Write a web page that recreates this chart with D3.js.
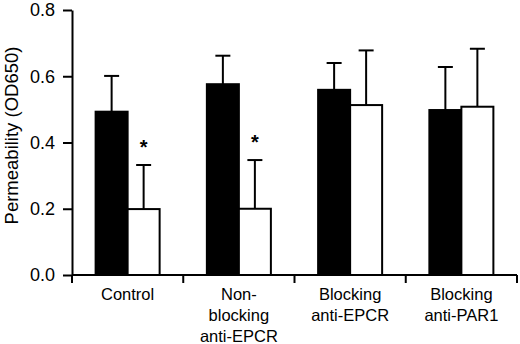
<!DOCTYPE html>
<html>
<head>
<meta charset="utf-8">
<script src="https://cdn.jsdelivr.net/npm/d3@7/dist/d3.min.js"></script>
<style>
body{margin:0;background:#fff;}
text{font-family:"Liberation Sans",Arial,sans-serif;}
</style>
</head>
<body>
<script>
var categories=[["Control"],["Non-","blocking","anti-EPCR"],["Blocking","anti-EPCR"],["Blocking","anti-PAR1"]];
var series=["black","white"];
var blackValues=[0.493,0.576,0.559,0.498];
var blackErrors=[0.108,0.086,0.081,0.130];
var whiteValues=[0.199,0.200,0.513,0.508];
var whiteErrors=[0.133,0.147,0.165,0.175];
var significant=[true,true,false,false];
var yTicks=[0,0.2,0.4,0.6,0.8];

var width=520, height=344;
var margin={left:72, right:3, top:10, bottom:69};

var svg=d3.select("body").append("svg").attr("width",width).attr("height",height);

var x0=d3.scaleBand()
    .domain(d3.range(categories.length))
    .range([margin.left, width-margin.right]);
var x1=d3.scaleBand()
    .domain(series)
    .range([0, x0.bandwidth()])
    .paddingOuter(0.738);
var y=d3.scaleLinear()
    .domain([0,0.8])
    .range([height-margin.bottom, margin.top]);

var rows=[];
categories.forEach(function(c,i){
  rows.push({cat:i, s:"black", v:blackValues[i], e:blackErrors[i]});
  rows.push({cat:i, s:"white", v:whiteValues[i], e:whiteErrors[i]});
});

// error bars first so bar fill covers the stem
var eb=svg.append("g").attr("stroke","#000").attr("stroke-width",2);
rows.forEach(function(d){
  var cx=x0(d.cat)+x1(d.s)+x1.bandwidth()/2;
  eb.append("line").attr("x1",cx).attr("x2",cx).attr("y1",y(d.v)).attr("y2",y(d.v+d.e));
  eb.append("line").attr("x1",cx-7.5).attr("x2",cx+7.5).attr("y1",y(d.v+d.e)).attr("y2",y(d.v+d.e));
});

svg.append("g").selectAll("rect")
  .data(rows).enter().append("rect")
    .attr("x",function(d){return x0(d.cat)+x1(d.s);})
    .attr("y",function(d){return y(d.v);})
    .attr("width",x1.bandwidth())
    .attr("height",function(d){return y(0)-y(d.v);})
    .attr("fill",function(d){return d.s=="black"?"#000":"#fff";})
    .attr("stroke","#000")
    .attr("stroke-width",2);

// asterisks
svg.append("g").selectAll("text")
  .data(rows.filter(function(d){return d.s=="white" && significant[d.cat];}))
  .enter().append("text")
    .attr("x",function(d){return x0(d.cat)+x1(d.s)+x1.bandwidth()/2;})
    .attr("y",function(d){return y(d.v+d.e)-11;})
    .attr("text-anchor","middle")
    .attr("font-size",20)
    .attr("font-weight","bold")
    .text("*");

// y axis
var yAxis=d3.axisLeft(y).tickValues(yTicks).tickFormat(d3.format(".1f")).tickSize(9).tickSizeOuter(0).tickPadding(8);
var gy=svg.append("g").attr("transform","translate("+margin.left+",0)").call(yAxis);
gy.select(".domain").attr("stroke-width",2);
gy.selectAll(".tick line").attr("stroke-width",2);
gy.selectAll(".tick text").attr("font-size",18).attr("font-family","Liberation Sans, Arial, sans-serif").attr("fill","#000");

// x axis line and category boundary ticks
var gx=svg.append("g").attr("stroke","#000").attr("stroke-width",2);
gx.append("line").attr("x1",margin.left).attr("x2",width-margin.right).attr("y1",y(0)).attr("y2",y(0));
var bounds=x0.domain().map(function(d){return x0(d);}).concat([x0.range()[1]]);
gx.selectAll(".b").data(bounds).enter().append("line")
  .attr("x1",function(d){return d;}).attr("x2",function(d){return d;})
  .attr("y1",y(0)).attr("y2",y(0)+8);

// category labels
svg.append("g").selectAll("text")
  .data(categories).enter().append("text")
    .attr("text-anchor","middle")
    .attr("font-size",16.5)
    .attr("x",function(d,i){return x0(i)+x0.bandwidth()/2;})
    .each(function(d,i){
      var t=d3.select(this);
      d.forEach(function(line,j){
        t.append("tspan").attr("x",x0(i)+x0.bandwidth()/2).attr("y",y(0)+25+j*20.8).text(line);
      });
    });

// y label
svg.append("text")
    .attr("transform","translate(18,"+((y(0)+y(0.8))/2-7)+") rotate(-90)")
    .attr("text-anchor","middle")
    .attr("font-size",18.5)
    .text("Permeability (OD650)");
</script>
</body>
</html>
